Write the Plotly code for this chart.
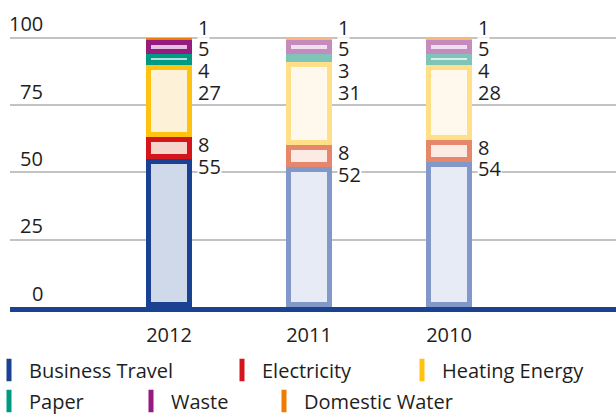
import plotly.graph_objects as go

# ---- data ----
years = ["2012", "2011", "2010"]
series_names = ["Business Travel", "Electricity", "Heating Energy", "Paper", "Waste", "Domestic Water"]
business_travel = [55, 52, 54]
electricity = [8, 8, 8]
heating_energy = [27, 31, 28]
paper = [4, 3, 4]
waste = [5, 5, 5]
domestic_water = [1, 1, 1]
y_ticks = [0, 25, 50, 75, 100]

values = [business_travel, electricity, heating_energy, paper, waste, domestic_water]

# ---- styles ----
strong = ["#1b4193", "#d4161c", "#ffc20e", "#009a84", "#951b81", "#ef7d00"]
strong_faded = ["#8198c8", "#e6876c", "#ffdf88", "#7fc4b8", "#c58bbf", "#f7b87a"]
fill = ["#d0d9ea", "#f6d6cb", "#fdf1d8", "#b3e0d9", "#e4c2de", "#fbd9b3"]
fill_faded = ["#e6ebf5", "#fbebe4", "#fff8ec", "#d9efeb", "#f1e0ee", "#fdecd9"]

FONT = "Open Sans"
TXT = "#1e1e1e"
BAR_W = 0.329
INSET_X = 0.036
INSET_Y = 1.85
LABEL_GAP = 8.0

fig = go.Figure()

base = [0, 0, 0]
for i, vals in enumerate(values):
    oc = [strong[i], strong_faded[i], strong_faded[i]]
    ic = [fill[i], fill_faded[i], fill_faded[i]]
    fig.add_bar(x=years, y=vals, base=list(base), width=BAR_W,
                marker=dict(color=oc, line=dict(width=0)),
                showlegend=False, hoverinfo="skip")
    inner_h = [max(v - 2 * INSET_Y, 0) for v in vals]
    fig.add_bar(x=years, y=inner_h, base=[b + INSET_Y for b in base],
                width=BAR_W - 2 * INSET_X,
                marker=dict(color=ic, line=dict(width=0)),
                showlegend=False, hoverinfo="skip")
    base = [b + v for b, v in zip(base, vals)]

# legend entries (one legend each so they can flow like the original)
legend_ids = ["legend", "legend2", "legend3", "legend4", "legend5", "legend6"]
for i, name in enumerate(series_names):
    fig.add_scatter(x=[None], y=[None], mode="markers", name=name,
                    marker=dict(symbol="line-ns", size=16,
                                line=dict(width=5, color=strong[i]), color=strong[i]),
                    legend=legend_ids[i], hoverinfo="skip")

annotations = []
# data labels
for j, yr in enumerate(years):
    tops = []
    acc = 0
    for vals in values:
        acc += vals[j]
        tops.append(acc)
    prev = None
    for i in reversed(range(len(values))):
        if i == len(values) - 1:
            yl = tops[i] + 4
        else:
            yl = min(tops[i] - 2.5, prev - LABEL_GAP)
        prev = yl
        annotations.append(dict(x=j, y=yl, xref="x", yref="y", text=str(values[i][j]),
                                showarrow=False, xanchor="left", yanchor="middle",
                                xshift=28, bgcolor="white", borderpad=0, height=20,
                                font=dict(family=FONT, size=20, color=TXT)))
# y tick labels above gridlines
for t in y_ticks:
    annotations.append(dict(x=(45 - 10) / 606, y=t, xref="paper", yref="y", text=str(t),
                            showarrow=False, xanchor="right", yanchor="middle", yshift=14,
                            font=dict(family=FONT, size=20, color=TXT)))

W, H = 616, 414
PLOT_L = 10
PLOT_TOP = 24
PLOT_BOT = 307
PW = W - PLOT_L
PH = PLOT_BOT - PLOT_TOP

leg_common = dict(orientation="h", xanchor="left", yanchor="middle",
                  xref="paper", yref="paper",
                  bgcolor="rgba(0,0,0,0)", borderwidth=0,
                  font=dict(family=FONT, size=20, color=TXT))
# (text start x, row centre y) in pixels
leg_pos = [(30, 370), (263, 370), (443, 370), (30, 401), (172, 401), (305, 401)]
legend_layout = {}
for lid, (tx, tyy) in zip(legend_ids, leg_pos):
    legend_layout[lid] = dict(x=(tx - 41 - PLOT_L) / PW, y=(PLOT_BOT - tyy) / PH, **leg_common)

fig.update_layout(
    width=W, height=H,
    margin=dict(l=PLOT_L, r=0, t=PLOT_TOP, b=H - PLOT_BOT, autoexpand=False),
    paper_bgcolor="white", plot_bgcolor="white",
    barmode="overlay",
    bargap=0,
    font=dict(family=FONT, size=20, color=TXT),
    xaxis=dict(type="category", range=[-1.136, 3.193], showgrid=False,
               showline=True, linecolor="#1b4193", linewidth=5,
               ticks="", ticklabelstandoff=6,
               tickfont=dict(family=FONT, size=20, color=TXT), fixedrange=True),
    yaxis=dict(range=[0, PH / 2.693], tickvals=y_ticks, showticklabels=False,
               showgrid=True, gridcolor="#c3c3c3", gridwidth=1.5,
               zeroline=False, showline=False, fixedrange=True),
    annotations=annotations,
    **legend_layout,
)

fig.write_html("out.html", config={"displayModeBar": False},
               post_script="document.body.style.margin='0px';")
